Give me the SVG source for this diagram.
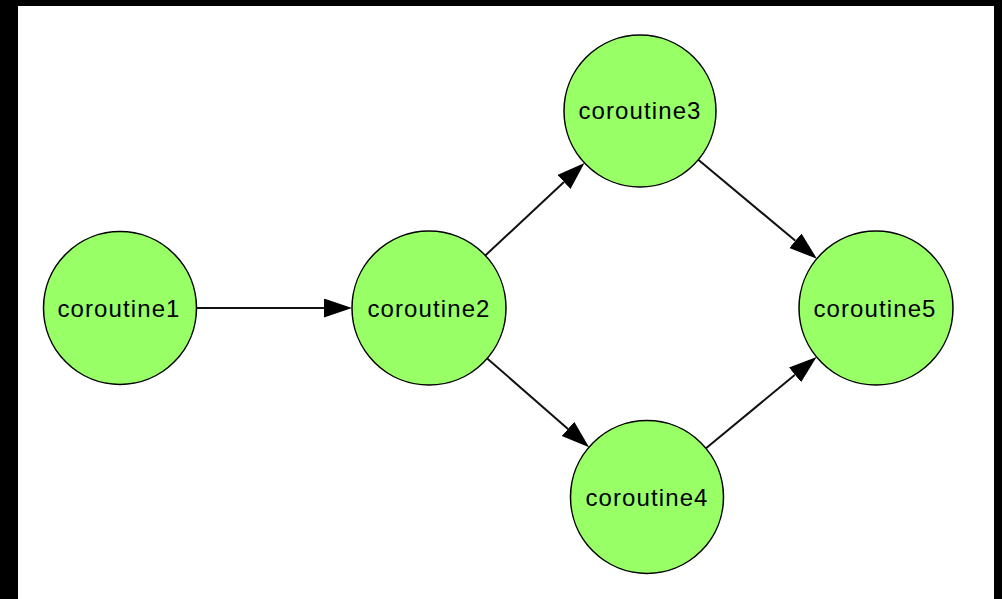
<svg xmlns="http://www.w3.org/2000/svg" width="1002" height="599" viewBox="0 0 1002 599">
  <defs>
    <style>
      .node circle { fill: #99ff66; stroke: #000; stroke-width: 1.5; }
      .node text { font-family: "Liberation Sans", Arial, sans-serif; font-size: 24px; letter-spacing: 1.1px; fill: #000; text-anchor: middle; }
      .edges line { stroke: #111; stroke-width: 2; }
    </style>
    <marker id="arrow" markerUnits="userSpaceOnUse" markerWidth="30" markerHeight="20" refX="0" refY="9.5" orient="auto">
      <path d="M0,0 L28,9.5 L0,19 Z" fill="#000"/>
    </marker>
  </defs>

  <!-- frame and canvas -->
  <rect x="0" y="0" width="1002" height="599" fill="#000"/>
  <rect x="18" y="6" width="976" height="593" fill="#fff"/>

  <g class="edges">
    <line x1="196.5" y1="308" x2="324" y2="308" marker-end="url(#arrow)"/>
    <line x1="485.3" y1="255.5" x2="564.0" y2="182.0" marker-end="url(#arrow)"/>
    <line x1="487.2" y1="358.4" x2="568.0" y2="428.9" marker-end="url(#arrow)"/>
    <line x1="698.3" y1="159.7" x2="795.4" y2="240.8" marker-end="url(#arrow)"/>
    <line x1="706.0" y1="448.3" x2="795.0" y2="374.8" marker-end="url(#arrow)"/>
  </g>

  <g id="coroutine1" class="node">
    <circle cx="120" cy="308" r="76.5"/>
    <text x="119" y="317">coroutine1</text>
  </g>
  <g id="coroutine2" class="node">
    <circle cx="429" cy="308" r="77"/>
    <text x="429" y="317">coroutine2</text>
  </g>
  <g id="coroutine3" class="node">
    <circle cx="640" cy="111" r="76"/>
    <text x="640" y="119">coroutine3</text>
  </g>
  <g id="coroutine4" class="node">
    <circle cx="647" cy="497" r="76.5"/>
    <text x="647" y="506">coroutine4</text>
  </g>
  <g id="coroutine5" class="node">
    <circle cx="876" cy="308" r="77"/>
    <text x="875" y="317">coroutine5</text>
  </g>
</svg>
